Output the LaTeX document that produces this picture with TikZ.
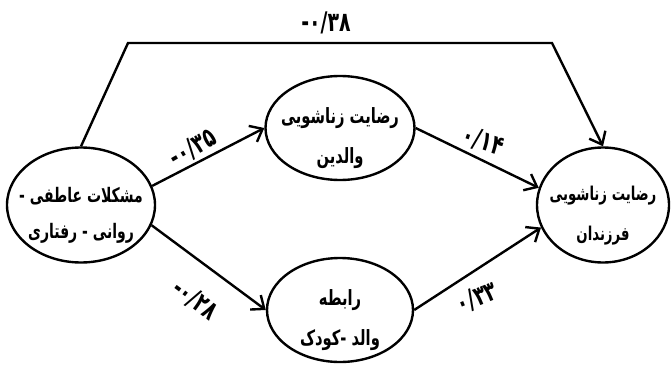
\documentclass[tikz,border=0pt]{standalone}
\usepackage{fontspec}
\newfontfamily\arabicfont[Script=Arabic, FakeStretch=0.7]{DejaVu Sans}
\TeXXeTstate=1
\usetikzlibrary{shapes.geometric,arrows.meta}

\begin{document}
\begin{tikzpicture}[
  x=1pt, y=-1pt,
  var/.style={
    draw, line width=2.4pt, ellipse, inner sep=-30pt,
    font=\arabicfont\bfseries\fontsize{21}{40}\selectfont, align=center,
    text height=76pt, text depth=6pt
  },
  arr/.style={-{Straight Barb[length=11pt,width=18pt]}, line width=2.4pt},
  coef/.style={font=\arabicfont\bfseries\fontsize{27}{28}\selectfont, inner sep=1pt},
]
\useasboundingbox (0,0) rectangle (671,377);

\node[var, minimum width=148pt, minimum height=115pt,
      font=\arabicfont\bfseries\fontsize{20}{36}\selectfont, text height=72pt] (emo) at (81,205)
  {\beginR مشکلات عاطفی -\endR\\\beginR روانی - رفتاری\endR};
\node[var, minimum width=149pt, minimum height=104pt] (par) at (340,128)
  {\beginR رضایت زناشویی\endR\\\beginR والدین\endR};
\node[var, minimum width=146pt, minimum height=104pt] (rel) at (340,310)
  {\beginR رابطه\endR\\\beginR والد -کودک\endR};
\node[var, minimum width=132pt, minimum height=115pt,
      font=\arabicfont\bfseries\fontsize{19}{40}\selectfont] (chi) at (603,205)
  {\beginR رضایت زناشویی\endR\\\beginR فرزندان\endR};

\coordinate (tl) at (128,43);
\coordinate (tr) at (552,43);

\draw[arr] (emo.north) -- (tl) -- (tr) -- (chi.north);
\draw[arr] (emo.15) -- (par.west);
\draw[arr] (emo.-16) -- (rel.west);
\draw[arr] (par.east) -- (chi.165);
\draw[arr] (rel.east) -- (chi.200);

\node[coef] (c38) at (326,23) {\mbox{-}۰/۳۸};
\node[coef, rotate=30] (c35) at (193,148) {\mbox{-}۰/۳۵};
\node[coef, rotate=-37] (c28) at (195,300) {\mbox{-}۰/۲۸};
\node[coef, rotate=-18] (c14) at (483,141) {۰/۱۴};
\node[coef, rotate=22] (c33) at (477,298) {۰/۳۳};

\end{tikzpicture}
\end{document}
